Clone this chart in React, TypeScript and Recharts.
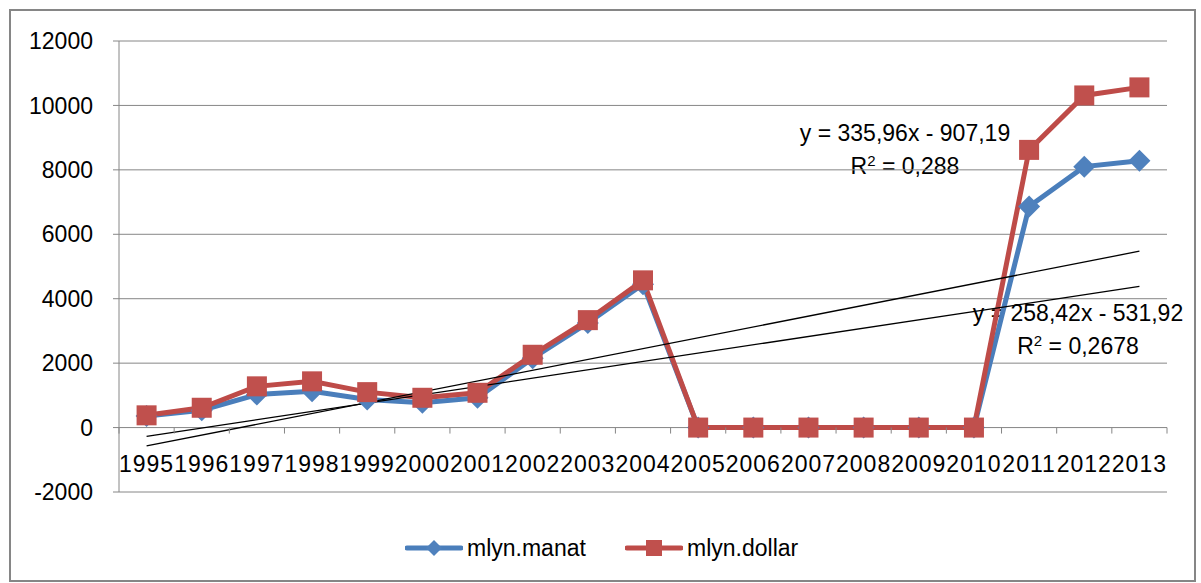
import { CartesianGrid, Line, LineChart, XAxis, YAxis } from "recharts";

const years = [
  "1995", "1996", "1997", "1998", "1999", "2000", "2001", "2002", "2003", "2004",
  "2005", "2006", "2007", "2008", "2009", "2010", "2011", "2012", "2013",
];
const manat = [360, 540, 1025, 1130, 870, 770, 925, 2155, 3250, 4450, 0, 0, 0, 0, 0, 0, 6860, 8100, 8280];
const dollar = [380, 615, 1280, 1435, 1100, 925, 1080, 2260, 3335, 4570, 0, 0, 0, 0, 0, 0, 8620, 10310, 10560];
const manatTrend = [-275, null, null, null, null, null, null, null, null, null, null, null, null, null, null, null, null, null, 4380];
const dollarTrend = [-570, null, null, null, null, null, null, null, null, null, null, null, null, null, null, null, null, null, 5475];
const yTicks = [-2000, 0, 2000, 4000, 6000, 8000, 10000, 12000];
const dollarLabel = ["y = 335,96x - 907,19", "0,288"];
const manatLabel = ["y = 258,42x - 531,92", "0,2678"];

const data = years.map((year, i) => ({
  year,
  manat: manat[i],
  dollar: dollar[i],
  manatTrend: manatTrend[i],
  dollarTrend: dollarTrend[i],
}));

const W = 1201;
const H = 583;
const PLOT_L = 119;
const PLOT_R = 1167;
const PLOT_T = 41;
const PLOT_B = 492;
const STEP = (PLOT_R - PLOT_L) / years.length;
const Y_MIN = -2000;
const Y_MAX = 12000;
const ZERO_Y = PLOT_T + ((Y_MAX - 0) / (Y_MAX - Y_MIN)) * (PLOT_B - PLOT_T);

const colors = {
  manat: "#4A7EBB",
  manatMarker: "#4F81BD",
  dollar: "#BE4B48",
  dollarMarker: "#C0504D",
  grid: "#868686",
  text: "#000000",
};

const FONT = "'Liberation Sans', Arial, sans-serif";

function DiamondDot({ cx, cy, half = 11 }: { cx?: number; cy?: number; half?: number }) {
  if (cx == null || cy == null) return null;
  return (
    <polygon
      points={`${cx},${cy - half} ${cx + half},${cy} ${cx},${cy + half} ${cx - half},${cy}`}
      fill={colors.manatMarker}
    />
  );
}

function SquareDot({ cx, cy, side = 20 }: { cx?: number; cy?: number; side?: number }) {
  if (cx == null || cy == null) return null;
  return <rect x={cx - side / 2} y={cy - side / 2} width={side} height={side} fill={colors.dollarMarker} />;
}

function YearTick({ x, index, payload }: { x?: number; index?: number; payload?: { value: string } }) {
  if (x == null) return null;
  return (
    <g>
      {index === 0 && <line x1={x - STEP / 2} x2={x - STEP / 2} y1={ZERO_Y} y2={ZERO_Y + 6} stroke={colors.grid} />}
      <line x1={x + STEP / 2} x2={x + STEP / 2} y1={ZERO_Y} y2={ZERO_Y + 6} stroke={colors.grid} />
      <text
        x={x}
        y={ZERO_Y + 44}
        textAnchor="middle"
        fill={colors.text}
        fontSize={23}
        fontFamily={FONT}
        letterSpacing={1}
      >
        {payload?.value}
      </text>
    </g>
  );
}

function Annotation({ lines, cx, top }: { lines: string[]; cx: number; top: number }) {
  return (
    <div
      style={{
        position: "absolute",
        left: cx,
        top,
        transform: "translateX(-50%)",
        textAlign: "center",
        whiteSpace: "nowrap",
        fontSize: 23,
        lineHeight: "33px",
        color: colors.text,
      }}
    >
      <div>{lines[0]}</div>
      <div>
        R<span style={{ fontSize: 15, position: "relative", top: -8 }}>2</span> = {lines[1]}
      </div>
    </div>
  );
}

function LegendItem({ left, label, marker, color }: { left: number; label: string; marker: "diamond" | "square"; color: string }) {
  return (
    <div style={{ position: "absolute", left, top: 535, display: "flex", alignItems: "center", height: 26 }}>
      <svg width={58} height={26}>
        <line x1={2} x2={56} y1={13} y2={13} stroke={color} strokeWidth={5} strokeLinecap="round" />
        {marker === "diamond" ? <DiamondDot cx={29} cy={13} half={8} /> : <SquareDot cx={29} cy={13} side={16} />}
      </svg>
      <span style={{ marginLeft: 4, fontSize: 23, lineHeight: "26px", color: colors.text }}>{label}</span>
    </div>
  );
}

export default function App() {
  return (
    <div style={{ position: "absolute", left: 0, top: 0, width: W, height: H, background: "#fff", fontFamily: FONT }}>
      <div
        style={{
          position: "absolute",
          left: 9,
          top: 9,
          width: 1187,
          height: 573,
          boxSizing: "border-box",
          border: `2px solid ${colors.grid}`,
        }}
      />
      <Annotation lines={dollarLabel} cx={905} top={117} />
      <Annotation lines={manatLabel} cx={1078} top={297} />
      <div style={{ position: "absolute", left: 0, top: 0 }}>
        <LineChart
          width={W}
          height={H}
          data={data}
          margin={{ top: PLOT_T, right: W - PLOT_R, bottom: H - PLOT_B - 30, left: PLOT_L - 100 }}
        >
          <CartesianGrid stroke={colors.grid} vertical={false} />
          <XAxis
            dataKey="year"
            height={30}
            interval={0}
            axisLine={false}
            tickLine={false}
            padding={{ left: STEP / 2, right: STEP / 2 }}
            tick={<YearTick />}
          />
          <YAxis
            width={100}
            domain={[Y_MIN, Y_MAX]}
            ticks={yTicks}
            interval={0}
            axisLine={{ stroke: colors.grid }}
            tickLine={{ stroke: colors.grid }}
            tickSize={6}
            tickMargin={20}
            tick={{ fill: colors.text, fontSize: 23, fontFamily: FONT }}
          />
          <Line
            dataKey="manat"
            stroke={colors.manat}
            strokeWidth={5}
            dot={<DiamondDot />}
            activeDot={false}
            isAnimationActive={false}
          />
          <Line
            dataKey="dollar"
            stroke={colors.dollar}
            strokeWidth={5}
            dot={<SquareDot />}
            activeDot={false}
            isAnimationActive={false}
          />
          <Line
            dataKey="manatTrend"
            stroke="#000"
            strokeWidth={1.3}
            dot={false}
            activeDot={false}
            connectNulls
            isAnimationActive={false}
          />
          <Line
            dataKey="dollarTrend"
            stroke="#000"
            strokeWidth={1.3}
            dot={false}
            activeDot={false}
            connectNulls
            isAnimationActive={false}
          />
        </LineChart>
      </div>
      <LegendItem left={405} label="mlyn.manat" marker="diamond" color={colors.manat} />
      <LegendItem left={625} label="mlyn.dollar" marker="square" color={colors.dollar} />
    </div>
  );
}
